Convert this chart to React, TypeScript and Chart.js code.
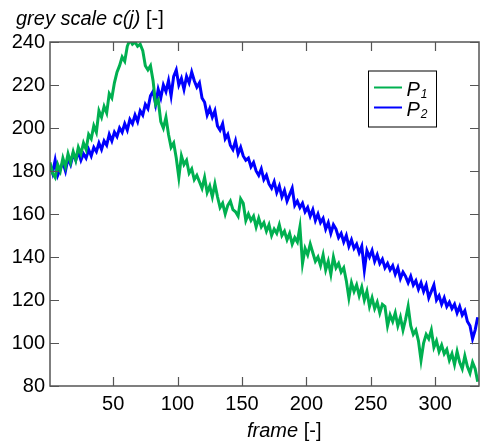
import React, { useEffect, useRef } from "react";
import { Chart, registerables } from "chart.js";

Chart.register(...registerables);

// frame numbers: first frame and sampling step of the value arrays
const frameStart = 1;
const frameStep = 2;

const p1Values = [
  184, 179, 177, 183, 180, 186, 182, 188, 184, 189,
  185, 191, 188, 193, 190, 197, 195, 201, 198, 208,
  205, 210, 207, 216, 214, 221, 226, 229, 233, 231,
  238, 241, 239, 240, 238, 239, 236, 229, 227, 229,
  222, 211, 213, 203, 200, 205, 197, 191, 193, 186,
  177, 187, 183, 185, 179, 181, 176, 178, 175, 172,
  177, 170, 173, 168, 174, 168, 163, 165, 160, 164,
  166, 162, 161, 159, 167, 165, 157, 160, 157, 159,
  154, 158, 154, 156, 152, 155, 150, 153, 151, 155,
  150, 152, 148, 151, 146, 149, 147, 154, 137, 144,
  141, 146, 142, 138, 140, 136, 141, 134, 138, 132,
  140, 135, 137, 133, 135, 129, 121, 128, 124, 127,
  122, 126, 120, 124, 117, 121, 116, 119, 114, 118,
  117, 108, 113, 110, 114, 108, 112, 106, 111, 117,
  108, 104, 106, 101, 92, 100, 104, 102, 106, 98,
  101, 96, 99, 95, 97, 92, 95, 90, 96, 91,
  88, 94, 89, 86, 91, 88, 82,
];

const p2Values = [
  183, 179, 185, 178, 181, 184, 180, 186, 183, 188,
  185, 189, 185, 188, 186, 190, 187, 191, 189, 193,
  190, 194, 192, 197, 194, 198, 196, 200, 198, 202,
  199, 204, 202, 206, 203, 208, 206, 211, 209, 215,
  217, 211, 218, 214, 220, 217, 222, 215, 224, 227,
  220, 223, 218, 224, 221, 226, 222, 219, 221, 214,
  212, 206, 209, 205, 208, 201, 199, 202, 195, 197,
  192, 190, 194, 188, 191, 187, 185, 186, 182, 184,
  180, 178, 181, 176, 178, 174, 172, 175, 170, 173,
  168, 171, 166, 169, 172, 164, 166, 163, 165, 161,
  163, 159, 162, 157, 160, 156, 158, 153, 156, 151,
  155, 153, 149, 151, 147, 150, 145, 148, 144, 146,
  142, 145, 134, 143, 140, 143, 138, 141, 137, 139,
  135, 137, 134, 136, 132, 135, 130, 133, 131, 128,
  131, 127, 129, 125, 128, 124, 127, 121, 124, 127,
  120, 122, 118, 121, 117, 119, 116, 118, 114, 117,
  113, 115, 110, 108, 102, 106, 112,
];

const seriesNames = ["1", "2"]; // subscripts of P
const seriesColors = ["#00b050", "#0000ff"];
const xTicks = [50, 100, 150, 200, 250, 300];
const yTicks = [80, 100, 120, 140, 160, 180, 200, 220, 240];
const xMin = 1;
const xMax = 334;

const FONT = "'Liberation Sans', Arial, sans-serif";

const frames = p1Values.map((_, i) => frameStart + i * frameStep);

const matlabPlugin = {
  id: "matlabAxes",
  afterDraw(chart: any) {
    const { ctx, chartArea: a, scales } = chart;
    const xs = scales.x;
    const ys = scales.y;
    ctx.save();
    // box
    ctx.strokeStyle = "#555555";
    ctx.lineWidth = 1.5;
    ctx.strokeRect(a.left, a.top, a.right - a.left, a.bottom - a.top);
    // inward ticks
    ctx.beginPath();
    const tl = 9;
    xTicks.forEach((v) => {
      const px = Math.round(xs.getPixelForValue(v)) + 0.5;
      ctx.moveTo(px, a.bottom);
      ctx.lineTo(px, a.bottom - tl);
      ctx.moveTo(px, a.top);
      ctx.lineTo(px, a.top + tl);
    });
    yTicks.forEach((v) => {
      const py = Math.round(ys.getPixelForValue(v)) + 0.5;
      ctx.moveTo(a.left, py);
      ctx.lineTo(a.left + tl, py);
      ctx.moveTo(a.right, py);
      ctx.lineTo(a.right - tl, py);
    });
    ctx.lineWidth = 1.2;
    ctx.stroke();

    // legend
    const bx = a.right - 111;
    const by = a.top + 28.5;
    ctx.fillStyle = "#ffffff";
    ctx.fillRect(bx, by, 68, 56);
    ctx.strokeStyle = "#000000";
    ctx.lineWidth = 1;
    ctx.strokeRect(bx + 0.5, by + 0.5, 68, 56);
    chart.data.datasets.forEach((ds: any, i: number) => {
      const ly = by + 17 + i * 20;
      ctx.strokeStyle = ds.borderColor;
      ctx.lineWidth = 2;
      ctx.beginPath();
      ctx.moveTo(bx + 6, ly);
      ctx.lineTo(bx + 34, ly);
      ctx.stroke();
      ctx.fillStyle = "#000000";
      ctx.textAlign = "left";
      ctx.textBaseline = "alphabetic";
      ctx.font = `italic 20px ${FONT}`;
      ctx.fillText("P", bx + 38.5, ly + 8.5);
      const w = ctx.measureText("P").width;
      ctx.font = `italic 12px ${FONT}`;
      ctx.fillText(seriesNames[i], bx + 38.5 + w + 1, ly + 10.5);
    });

    // y title
    ctx.fillStyle = "#000000";
    ctx.textBaseline = "alphabetic";
    ctx.textAlign = "left";
    ctx.font = `italic 20px ${FONT}`;
    const t1 = "grey scale c(j)";
    ctx.fillText(t1, 16, 25);
    const w1 = ctx.measureText(t1).width;
    ctx.font = `20px ${FONT}`;
    ctx.fillText(" [-]", 16 + w1, 25);

    // x title
    ctx.font = `italic 20px ${FONT}`;
    const t2 = "frame";
    ctx.fillText(t2, 247, 437);
    const w2 = ctx.measureText(t2).width;
    ctx.font = `20px ${FONT}`;
    ctx.fillText(" [-]", 247 + w2, 437);
    ctx.restore();
  },
};

export default function App() {
  const ref = useRef<HTMLCanvasElement | null>(null);

  useEffect(() => {
    if (!ref.current) return;
    const chart = new Chart(ref.current, {
      type: "line",
      data: {
        datasets: [p1Values, p2Values].map((vals, i) => ({
          label: "P" + seriesNames[i],
          data: vals.map((v, j) => ({ x: frames[j], y: v })),
          borderColor: seriesColors[i],
          backgroundColor: seriesColors[i],
          borderWidth: 3,
          pointRadius: 0,
          tension: 0,
          fill: false,
        })),
      },
      options: {
        responsive: false,
        animation: false,
        events: [],
        layout: { padding: { top: 42, right: 2, left: 0, bottom: 0 } },
        plugins: {
          legend: { display: false },
          tooltip: { enabled: false },
          title: { display: false },
        },
        scales: {
          x: {
            type: "linear",
            min: xMin,
            max: xMax,
            grid: { display: false, drawTicks: false },
            border: { display: false },
            afterBuildTicks: (scale: any) => {
              scale.ticks = xTicks.map((v) => ({ value: v }));
            },
            afterFit: (scale: any) => {
              scale.height = 57;
            },
            ticks: {
              color: "#000000",
              font: { family: FONT, size: 20 },
              padding: 6,
              maxRotation: 0,
              autoSkip: false,
            },
          },
          y: {
            type: "linear",
            min: 80,
            max: 240,
            grid: { display: false, drawTicks: false },
            border: { display: false },
            afterBuildTicks: (scale: any) => {
              scale.ticks = yTicks.map((v) => ({ value: v }));
            },
            afterFit: (scale: any) => {
              scale.width = 50;
            },
            ticks: {
              color: "#000000",
              font: { family: FONT, size: 20 },
              padding: 5,
              autoSkip: false,
            },
          },
        },
      },
      plugins: [matlabPlugin],
    });
    return () => chart.destroy();
  }, []);

  return (
    <div style={{ position: "absolute", left: 0, top: 0, width: 481, height: 443 }}>
      <canvas ref={ref} width={481} height={443} style={{ display: "block" }} />
    </div>
  );
}
